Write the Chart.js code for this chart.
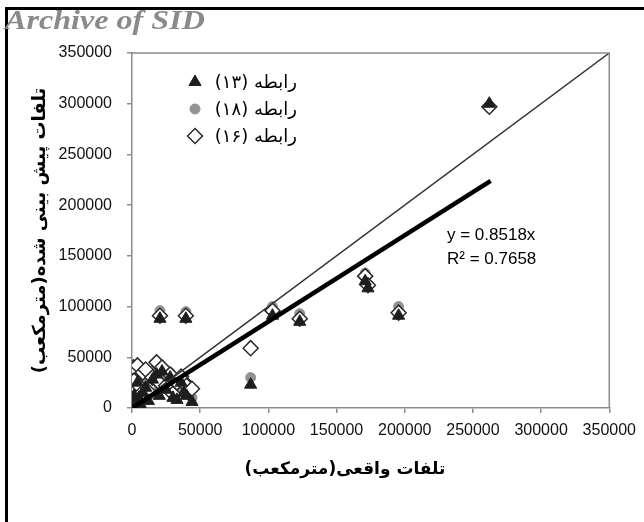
<!DOCTYPE html>
<html>
<head>
<meta charset="utf-8">
<script src="https://cdn.jsdelivr.net/npm/chart.js@4.4.1/dist/chart.umd.min.js"></script>
<style>
  html, body { margin: 0; padding: 0; background: #fff; }
  canvas { display: block; }
</style>
</head>
<body>
<canvas id="lossChart" width="644" height="522"></canvas>
<script>
// actual losses (x) shared by the three equations
const actualLoss = [262000, 20500, 39500, 103000, 123000, 171000, 173000, 195500, 87000,
  500, 1000, 1500, 2000, 3000, 4000, 5000, 6000, 8000, 10000, 12000, 15000, 18000,
  20000, 22000, 25000, 28000, 30000, 33000, 36000, 38000, 40000, 44000];
const predEq13 = [300000, 88000, 88000, 91000, 85000, 125000, 118000, 91000, 23000,
  1000, 3000, 12000, 6000, 2000, 25000, 10000, 4000, 15000, 20000, 7000, 28000, 33000,
  12000, 36000, 18000, 30000, 10000, 8000, 25000, 15000, 12000, 6000];
const predEq18 = [296000, 96000, 95000, 100000, 93000, 133000, 122000, 100000, 30000,
  3000, 8000, 20000, 14000, 5000, 32000, 16000, 9000, 24000, 28000, 12000, 34000, 40000,
  20000, 30000, 26000, 35000, 16000, 14000, 30000, 20000, 18000, 10000];
const predEq16 = [297000, 91000, 91000, 96000, 88000, 130000, 121000, 94000, 59000,
  5000, 40000, 27000, 18000, 9000, 42000, 22000, 13000, 35000, 38000, 16000, 30000, 45000,
  25000, 40000, 22000, 33000, 14000, 25000, 31000, 26000, 22000, 19000];

const seriesNames = ["رابطه (۱۳)", "رابطه (۱۸)", "رابطه (۱۶)"];

const oneToOneX = [0, 350000];
const oneToOneY = [0, 350000];
const trendX = [0, 263000];
const trendY = [0, 224000];

const axisMin = 0;
const axisMax = 350000;
const axisStep = 50000;

const xTitle = "تلفات واقعی(مترمکعب)";
const yTitle = "تلفات پیش بینی شده(مترمکعب)";
const equationLines = ["y = 0.8518x", "R² = 0.7658"];
const watermark = "Archive of SID";

const RLM = "\u200F";
const toPoints = (xs, ys) => xs.map((x, i) => ({ x: x, y: ys[i] }));

const tickFont = { family: "'Liberation Sans', Arial, sans-serif", size: 16 };
const titleFont = { family: "'DejaVu Sans', sans-serif", size: 18, weight: "bold" };
const axisGray = "#8c8c8c";

function drawMarker(ctx, ds, x, y) {
  ctx.save();
  ctx.fillStyle = ds.backgroundColor;
  ctx.strokeStyle = ds.borderColor;
  ctx.lineWidth = ds.borderWidth;
  Chart.helpers.drawPoint(ctx, {
    pointStyle: ds.pointStyle,
    radius: ds.pointRadius,
    borderWidth: ds.borderWidth,
    rotation: 0
  }, x, y);
  ctx.restore();
}

const framePlugin = {
  id: "frame",
  beforeDraw(chart) {
    const ctx = chart.ctx;
    ctx.save();
    ctx.fillStyle = "#fff";
    ctx.fillRect(0, 0, chart.width, chart.height);
    ctx.restore();
  },
  afterDraw(chart) {
    const ctx = chart.ctx;
    const area = chart.chartArea;
    ctx.save();

    // plot area box (top + right edges)
    ctx.strokeStyle = axisGray;
    ctx.lineWidth = 1.5;
    ctx.beginPath();
    ctx.moveTo(area.left, area.top);
    ctx.lineTo(area.right, area.top);
    ctx.lineTo(area.right, area.bottom);
    ctx.stroke();

    // outer black frame
    ctx.fillStyle = "#000";
    ctx.fillRect(5, 7, chart.width - 5, 3);
    ctx.fillRect(5, 7, 3, chart.height - 7);

    // watermark (source image is slightly stretched horizontally)
    ctx.save();
    ctx.fillStyle = "#8a8a8a";
    ctx.font = "italic bold 27px 'Liberation Serif', serif";
    ctx.textAlign = "left";
    ctx.textBaseline = "alphabetic";
    ctx.translate(5, 29);
    ctx.scale(1.19, 1);
    ctx.fillText(watermark, 0, 0);
    ctx.restore();

    // legend
    const rows = [82, 109, 136];
    const markerSets = [chart.data.datasets[2], chart.data.datasets[3], chart.data.datasets[4]];
    ctx.font = "18px 'DejaVu Sans', sans-serif";
    ctx.textBaseline = "middle";
    ctx.textAlign = "right";
    ctx.direction = "rtl";
    markerSets.forEach((ds, i) => {
      drawMarker(ctx, ds, 195, rows[i]);
      ctx.fillStyle = "#000";
      ctx.fillText(seriesNames[i], 297, rows[i] + 1);
    });

    // x axis title
    ctx.font = "bold 17px 'DejaVu Sans', sans-serif";
    ctx.textAlign = "center";
    ctx.fillText(xTitle, 345, 470);
    ctx.direction = "ltr";

    // trendline equation
    ctx.font = "17px 'Liberation Sans', Arial, sans-serif";
    ctx.textAlign = "left";
    ctx.fillText(equationLines[0], 447, 235);
    ctx.fillText(equationLines[1], 447, 259);

    ctx.restore();
  }
};

new Chart(document.getElementById("lossChart"), {
  type: "scatter",
  data: {
    datasets: [
      {
        label: "trend",
        data: toPoints(trendX, trendY),
        showLine: true,
        borderColor: "#000",
        borderWidth: 4.5,
        pointRadius: 0,
        order: 0
      },
      {
        label: "1:1",
        data: toPoints(oneToOneX, oneToOneY),
        showLine: true,
        borderColor: "#333",
        borderWidth: 1.5,
        pointRadius: 0,
        order: 0
      },
      {
        label: seriesNames[0],
        data: toPoints(actualLoss, predEq13),
        pointStyle: "triangle",
        pointRadius: 7,
        backgroundColor: "#1e1e1e",
        borderColor: "#1e1e1e",
        borderWidth: 1,
        order: 1
      },
      {
        label: seriesNames[1],
        data: toPoints(actualLoss, predEq18),
        pointStyle: "circle",
        pointRadius: 5,
        backgroundColor: "#939393",
        borderColor: "#939393",
        borderWidth: 1,
        order: 3
      },
      {
        label: seriesNames[2],
        data: toPoints(actualLoss, predEq16),
        pointStyle: "rectRot",
        pointRadius: 7.5,
        backgroundColor: "#fff",
        borderColor: "#2a2a2a",
        borderWidth: 1.5,
        order: 2
      }
    ]
  },
  options: {
    responsive: false,
    devicePixelRatio: 1,
    animation: false,
    layout: { padding: { left: 0, right: 34, top: 53, bottom: 0 } },
    plugins: {
      legend: { display: false },
      tooltip: { enabled: false }
    },
    scales: {
      x: {
        type: "linear",
        min: axisMin,
        max: axisMax,
        afterFit: (scale) => { scale.height = 114; },
        ticks: {
          stepSize: axisStep,
          maxRotation: 0,
          autoSkip: false,
          padding: 8,
          color: "#111",
          font: tickFont,
          callback: (v) => String(v)
        },
        grid: { drawOnChartArea: false, drawTicks: true, tickLength: 5, color: axisGray, lineWidth: 1.5 },
        border: { display: true, color: axisGray, width: 1.5 }
      },
      y: {
        type: "linear",
        min: axisMin,
        max: axisMax,
        afterFit: (scale) => { scale.width = 132; },
        ticks: {
          stepSize: axisStep,
          padding: 15,
          color: "#111",
          font: tickFont,
          callback: (v) => String(v)
        },
        grid: { drawOnChartArea: false, drawTicks: true, tickLength: 5, color: axisGray, lineWidth: 1.5 },
        border: { display: true, color: axisGray, width: 1.5 },
        title: {
          display: true,
          text: RLM + yTitle + RLM,
          color: "#000",
          font: titleFont,
          padding: { top: 30, bottom: 0 }
        }
      }
    }
  },
  plugins: [framePlugin]
});
</script>
</body>
</html>
